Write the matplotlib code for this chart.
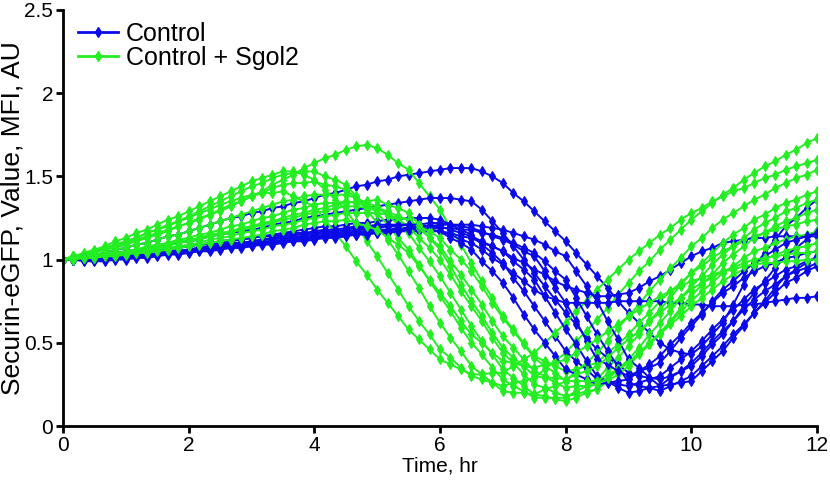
import numpy as np
import matplotlib
matplotlib.use("Agg")
import matplotlib.pyplot as plt
from matplotlib.lines import Line2D

plt.rcParams['font.family'] = ['Liberation Sans', 'DejaVu Sans']

# acquisition every 10 minutes for 12 hours
frame_interval_min = 10
n_frames = 73
time_hr = np.arange(n_frames) * frame_interval_min / 60.0

# ---- Control (blue) ----
control_1 = [1.00,1.01,1.02, 1.03,1.04,1.06, 1.07,1.09,1.10, 1.12,1.14,1.15, 1.17,1.19,1.21, 1.23,1.25,1.26,
             1.28,1.29,1.31, 1.32,1.34,1.35, 1.37,1.39,1.40, 1.42,1.44,1.45, 1.47,1.48,1.50, 1.51,1.52,1.53,
             1.54,1.55,1.55, 1.55,1.53,1.50, 1.46,1.40,1.35, 1.29,1.23,1.17, 1.11,1.04,0.97, 0.90,0.83,0.75,
             0.68,0.62,0.56, 0.50,0.46,0.44, 0.43,0.48,0.55, 0.62,0.73,0.85, 0.96,1.04,1.12, 1.20,1.25,1.31, 1.36]
control_2 = [1.00,1.01,1.01, 1.02,1.03,1.04, 1.05,1.06,1.07, 1.08,1.09,1.10, 1.11,1.12,1.14, 1.15,1.16,1.17,
             1.18,1.19,1.21, 1.22,1.23,1.25, 1.26,1.27,1.28, 1.29,1.30,1.31, 1.32,1.33,1.34, 1.35,1.36,1.37,
             1.37,1.37,1.36, 1.35,1.30,1.23, 1.16,1.08,1.00, 0.92,0.84,0.76, 0.68,0.61,0.53, 0.46,0.41,0.37,
             0.32,0.30,0.29, 0.28,0.30,0.33, 0.36,0.42,0.49, 0.55,0.63,0.72, 0.80,0.87,0.95, 1.02,1.07,1.12, 1.17]
control_3 = [1.00,1.00,1.01, 1.01,1.02,1.02, 1.03,1.04,1.05, 1.06,1.07,1.07, 1.08,1.09,1.10, 1.11,1.12,1.12,
             1.13,1.14,1.15, 1.16,1.17,1.18, 1.19,1.20,1.20, 1.21,1.22,1.22, 1.23,1.24,1.24, 1.25,1.25,1.25,
             1.24,1.21,1.18, 1.15,1.09,1.04, 0.98,0.89,0.81, 0.72,0.63,0.54, 0.45,0.39,0.34, 0.28,0.27,0.25,
             0.24,0.26,0.28, 0.30,0.35,0.40, 0.45,0.51,0.58, 0.64,0.70,0.76, 0.82,0.86,0.90, 0.94,0.96,0.99, 1.01]
control_4 = [1.00,1.00,1.00, 1.00,1.01,1.01, 1.02,1.03,1.03, 1.04,1.05,1.05, 1.06,1.07,1.08, 1.09,1.10,1.10,
             1.11,1.12,1.13, 1.14,1.15,1.15, 1.16,1.17,1.17, 1.18,1.19,1.19, 1.20,1.20,1.21, 1.21,1.21,1.20,
             1.20,1.18,1.16, 1.14,1.11,1.08, 1.05,1.01,0.98, 0.94,0.91,0.87, 0.84,0.82,0.80, 0.78,0.78,0.79,
             0.80,0.83,0.87, 0.90,0.94,0.98, 1.02,1.05,1.07, 1.10,1.11,1.12, 1.13,1.13,1.14, 1.14,1.14,1.14, 1.14]
control_5 = [1.00,1.00,1.01, 1.01,1.01,1.02, 1.02,1.03,1.03, 1.04,1.05,1.05, 1.06,1.07,1.07, 1.08,1.09,1.09,
             1.10,1.11,1.11, 1.12,1.13,1.13, 1.14,1.15,1.15, 1.16,1.17,1.17, 1.18,1.18,1.19, 1.19,1.19,1.18,
             1.17,1.15,1.12, 1.10,1.06,1.01, 0.97,0.92,0.87, 0.82,0.78,0.76, 0.74,0.74,0.74, 0.74,0.74,0.75,
             0.75,0.75,0.75, 0.75,0.74,0.74, 0.73,0.73,0.72, 0.72,0.72,0.73, 0.73,0.74,0.75, 0.76,0.77,0.77, 0.78]
control_6 = [1.00,1.00,1.00, 1.00,1.00,1.01, 1.01,1.02,1.02, 1.03,1.04,1.04, 1.05,1.06,1.06, 1.07,1.08,1.08,
             1.09,1.10,1.10, 1.11,1.12,1.12, 1.13,1.14,1.14, 1.15,1.15,1.16, 1.16,1.16,1.17, 1.17,1.17,1.17,
             1.17,1.16,1.14, 1.13,1.10,1.08, 1.05,0.99,0.94, 0.88,0.78,0.68, 0.58,0.49,0.39, 0.30,0.27,0.23,
             0.20,0.21,0.23, 0.24,0.29,0.33, 0.38,0.44,0.51, 0.57,0.63,0.70, 0.76,0.81,0.85, 0.90,0.93,0.95, 0.98]
control_7 = [1.00,1.00,0.99, 0.99,0.99,1.00, 1.00,1.01,1.01, 1.02,1.03,1.03, 1.04,1.05,1.05, 1.06,1.07,1.07,
             1.08,1.09,1.09, 1.10,1.11,1.11, 1.12,1.13,1.13, 1.14,1.15,1.15, 1.16,1.17,1.17, 1.18,1.18,1.19,
             1.19,1.19,1.18, 1.18,1.16,1.15, 1.13,1.10,1.07, 1.04,0.99,0.93, 0.88,0.77,0.66, 0.55,0.45,0.36,
             0.26,0.24,0.23, 0.21,0.24,0.27, 0.30,0.36,0.42, 0.48,0.55,0.61, 0.68,0.74,0.80, 0.86,0.89,0.93, 0.96]
control_8 = [1.00,1.00,1.01, 1.01,1.02,1.02, 1.03,1.04,1.04, 1.05,1.06,1.07, 1.08,1.09,1.09, 1.10,1.11,1.12,
             1.13,1.14,1.14, 1.15,1.16,1.16, 1.17,1.18,1.18, 1.19,1.20,1.20, 1.21,1.21,1.21, 1.21,1.20,1.18,
             1.17,1.13,1.10, 1.06,0.99,0.93, 0.86,0.77,0.67, 0.58,0.50,0.42, 0.34,0.31,0.28, 0.25,0.26,0.27,
             0.28,0.33,0.37, 0.42,0.49,0.55, 0.62,0.68,0.74, 0.80,0.84,0.89, 0.93,0.96,0.98, 1.01,1.02,1.04, 1.05]
control_9 = [1.00,1.00,1.00, 1.00,1.00,1.01, 1.01,1.02,1.02, 1.03,1.04,1.04, 1.05,1.06,1.06, 1.07,1.08,1.08,
             1.09,1.10,1.10, 1.11,1.12,1.12, 1.13,1.14,1.14, 1.15,1.16,1.16, 1.17,1.18,1.18, 1.19,1.20,1.20,
             1.21,1.21,1.21, 1.21,1.20,1.19, 1.18,1.16,1.14, 1.12,1.09,1.05, 1.02,0.93,0.84, 0.75,0.63,0.52,
             0.40,0.35,0.29, 0.24,0.25,0.26, 0.27,0.33,0.39, 0.45,0.53,0.60, 0.68,0.75,0.83, 0.90,0.94,0.98, 1.02]
control_10 = [1.00,1.00,1.01, 1.01,1.01,1.02, 1.02,1.03,1.03, 1.04,1.05,1.05, 1.06,1.07,1.07, 1.08,1.09,1.10,
              1.11,1.12,1.12, 1.13,1.14,1.14, 1.15,1.16,1.16, 1.17,1.18,1.18, 1.19,1.20,1.20, 1.21,1.21,1.22,
              1.22,1.21,1.20, 1.19,1.17,1.14, 1.12,1.09,1.05, 1.02,0.93,0.83, 0.74,0.63,0.51, 0.40,0.37,0.33,
              0.30,0.33,0.35, 0.38,0.45,0.53, 0.60,0.67,0.75, 0.82,0.87,0.93, 0.98,1.02,1.06, 1.10,1.12,1.14, 1.16]

# ---- Control + Sgol2 (green) ----
sgol2_1 = [1.00,1.02,1.03, 1.05,1.07,1.08, 1.10,1.12,1.14, 1.16,1.18,1.20, 1.22,1.24,1.27, 1.29,1.32,1.35,
           1.38,1.41,1.45, 1.48,1.51,1.55, 1.58,1.61,1.63, 1.66,1.68,1.69, 1.67,1.63,1.58, 1.54,1.46,1.38,
           1.30,1.19,1.09, 0.98,0.87,0.77, 0.66,0.58,0.50, 0.42,0.39,0.36, 0.33,0.34,0.36, 0.38,0.44,0.49,
           0.55,0.62,0.68, 0.75,0.81,0.86, 0.92,0.96,1.01, 1.05,1.08,1.11, 1.14,1.16,1.18, 1.20,1.21,1.23, 1.24]
sgol2_2 = [1.00,1.02,1.04, 1.06,1.08,1.11, 1.13,1.16,1.18, 1.21,1.24,1.26, 1.29,1.32,1.35, 1.38,1.41,1.44,
           1.47,1.49,1.51, 1.53,1.53,1.51, 1.48,1.42,1.36, 1.30,1.21,1.11, 1.02,0.92,0.82, 0.72,0.63,0.55,
           0.46,0.41,0.35, 0.30,0.28,0.26, 0.24,0.26,0.27, 0.29,0.34,0.39, 0.44,0.51,0.57, 0.64,0.71,0.79,
           0.86,0.93,0.99, 1.06,1.12,1.18, 1.24,1.29,1.34, 1.39,1.43,1.48, 1.52,1.56,1.59, 1.63,1.66,1.70, 1.73]
sgol2_3 = [1.00,1.02,1.03, 1.05,1.07,1.09, 1.11,1.13,1.16, 1.18,1.20,1.23, 1.25,1.28,1.30, 1.33,1.35,1.37,
           1.39,1.40,1.40, 1.41,1.38,1.35, 1.32,1.24,1.16, 1.08,0.99,0.91, 0.82,0.74,0.66, 0.58,0.52,0.46,
           0.40,0.37,0.34, 0.31,0.31,0.32, 0.32,0.36,0.40, 0.44,0.50,0.56, 0.62,0.69,0.75, 0.82,0.88,0.94,
           1.00,1.05,1.10, 1.15,1.19,1.24, 1.28,1.31,1.35, 1.38,1.41,1.43, 1.46,1.49,1.51, 1.54,1.56,1.58, 1.60]
sgol2_4 = [1.00,1.02,1.03, 1.05,1.07,1.09, 1.11,1.13,1.16, 1.18,1.21,1.23, 1.26,1.29,1.32, 1.35,1.38,1.41,
           1.44,1.46,1.49, 1.51,1.52,1.53, 1.53,1.50,1.48, 1.45,1.38,1.30, 1.22,1.12,1.03, 0.93,0.83,0.72,
           0.62,0.53,0.45, 0.36,0.31,0.26, 0.21,0.20,0.20, 0.19,0.22,0.24, 0.27,0.33,0.38, 0.44,0.51,0.59,
           0.66,0.73,0.81, 0.88,0.95,1.01, 1.08,1.13,1.19, 1.24,1.28,1.32, 1.36,1.39,1.43, 1.46,1.49,1.51, 1.54]
sgol2_5 = [1.00,1.01,1.03, 1.04,1.06,1.07, 1.09,1.11,1.13, 1.15,1.17,1.20, 1.22,1.25,1.27, 1.30,1.33,1.35,
           1.38,1.40,1.43, 1.45,1.46,1.46, 1.47,1.45,1.44, 1.42,1.37,1.33, 1.28,1.21,1.13, 1.06,0.97,0.87,
           0.78,0.69,0.59, 0.50,0.43,0.35, 0.28,0.24,0.21, 0.17,0.17,0.17, 0.17,0.21,0.24, 0.28,0.35,0.41,
           0.48,0.55,0.63, 0.70,0.77,0.85, 0.92,0.98,1.04, 1.10,1.15,1.19, 1.24,1.27,1.31, 1.34,1.36,1.39, 1.41]
sgol2_6 = [1.00,1.01,1.02, 1.03,1.04,1.06, 1.07,1.09,1.10, 1.12,1.14,1.15, 1.17,1.19,1.21, 1.23,1.25,1.27,
           1.29,1.31,1.33, 1.35,1.36,1.38, 1.39,1.39,1.39, 1.39,1.37,1.34, 1.32,1.27,1.21, 1.16,1.07,0.99,
           0.90,0.80,0.70, 0.60,0.51,0.43, 0.34,0.29,0.24, 0.19,0.18,0.16, 0.15,0.17,0.20, 0.22,0.28,0.34,
           0.40,0.47,0.55, 0.62,0.69,0.77, 0.84,0.90,0.97, 1.03,1.08,1.13, 1.18,1.22,1.25, 1.29,1.31,1.34, 1.36]
sgol2_7 = [1.00,1.01,1.01, 1.02,1.03,1.04, 1.05,1.06,1.08, 1.09,1.10,1.12, 1.13,1.15,1.16, 1.18,1.20,1.21,
           1.23,1.25,1.26, 1.28,1.30,1.31, 1.33,1.34,1.34, 1.35,1.34,1.32, 1.31,1.27,1.24, 1.20,1.13,1.07,
           1.00,0.91,0.81, 0.72,0.63,0.53, 0.44,0.38,0.31, 0.25,0.23,0.20, 0.18,0.19,0.21, 0.22,0.27,0.31,
           0.36,0.43,0.49, 0.56,0.63,0.71, 0.78,0.85,0.91, 0.98,1.03,1.08, 1.13,1.16,1.20, 1.23,1.25,1.28, 1.30]
sgol2_8 = [1.00,1.01,1.01, 1.02,1.03,1.03, 1.04,1.05,1.06, 1.07,1.08,1.10, 1.11,1.12,1.14, 1.15,1.16,1.18,
           1.19,1.21,1.22, 1.24,1.25,1.27, 1.28,1.29,1.31, 1.32,1.32,1.31, 1.31,1.29,1.26, 1.24,1.19,1.13,
           1.08,0.99,0.91, 0.82,0.73,0.63, 0.54,0.47,0.40, 0.33,0.30,0.26, 0.23,0.24,0.24, 0.25,0.29,0.34,
           0.38,0.44,0.50, 0.56,0.62,0.69, 0.75,0.81,0.86, 0.92,0.96,1.01, 1.05,1.07,1.10, 1.12,1.14,1.15, 1.17]
sgol2_9 = [1.00,1.00,1.01, 1.01,1.02,1.02, 1.03,1.04,1.05, 1.06,1.07,1.08, 1.09,1.10,1.12, 1.13,1.14,1.16,
           1.17,1.18,1.20, 1.21,1.22,1.24, 1.25,1.26,1.27, 1.28,1.28,1.28, 1.28,1.27,1.25, 1.24,1.20,1.17,
           1.13,1.06,1.00, 0.93,0.84,0.74, 0.65,0.57,0.49, 0.41,0.36,0.32, 0.27,0.27,0.27, 0.27,0.31,0.34,
           0.38,0.44,0.49, 0.55,0.61,0.66, 0.72,0.77,0.82, 0.87,0.91,0.94, 0.98,1.00,1.03, 1.05,1.07,1.08, 1.10]
sgol2_10 = [1.00,1.01,1.01, 1.02,1.03,1.04, 1.05,1.06,1.07, 1.08,1.09,1.11, 1.12,1.13,1.15, 1.16,1.17,1.19,
            1.20,1.22,1.23, 1.25,1.27,1.28, 1.30,1.31,1.33, 1.34,1.35,1.35, 1.36,1.33,1.31, 1.28,1.21,1.13,
            1.06,0.96,0.85, 0.75,0.66,0.56, 0.47,0.41,0.36, 0.30,0.29,0.29, 0.28,0.31,0.33, 0.36,0.41,0.47,
            0.52,0.57,0.63, 0.68,0.73,0.77, 0.82,0.86,0.89, 0.93,0.95,0.98, 1.00,1.01,1.02, 1.03,1.04,1.04, 1.05]
sgol2_11 = [1.00,1.00,1.01, 1.01,1.02,1.02, 1.03,1.04,1.04, 1.05,1.06,1.07, 1.08,1.09,1.10, 1.11,1.12,1.13,
            1.14,1.15,1.17, 1.18,1.19,1.21, 1.22,1.23,1.23, 1.24,1.22,1.20, 1.18,1.13,1.09, 1.04,0.96,0.88,
            0.80,0.72,0.63, 0.55,0.50,0.44, 0.39,0.38,0.36, 0.35,0.37,0.38, 0.40,0.44,0.48, 0.52,0.57,0.61,
            0.66,0.70,0.74, 0.78,0.81,0.84, 0.87,0.89,0.91, 0.93,0.94,0.96, 0.97,0.98,0.98, 0.99,0.99,1.00, 1.00]

control_series = [control_1, control_2, control_3, control_4, control_5,
                  control_6, control_7, control_8, control_9, control_10]
sgol2_series = [sgol2_1, sgol2_2, sgol2_3, sgol2_4, sgol2_5, sgol2_6,
                sgol2_7, sgol2_8, sgol2_9, sgol2_10, sgol2_11]

labels = ["Control", "Control + Sgol2"]
x_ticks = [0, 2, 4, 6, 8, 10, 12]
y_ticks = [0, 0.5, 1, 1.5, 2, 2.5]
y_ticklabels = ["0", "0.5", "1", "1.5", "2", "2.5"]

BLUE = "#0a0ae8"
GREEN = "#22ee22"

fig = plt.figure(figsize=(8.3, 4.8), dpi=100)
ax = fig.add_axes([63/830, 54/480, 754/830, 416/480])

style = dict(lw=1.4, marker="d", markersize=5, markeredgewidth=0.8)
n = max(len(control_series), len(sgol2_series))
for i in range(n):
    if i < len(control_series):
        ax.plot(time_hr, control_series[i], color=BLUE, mec=BLUE, mfc=BLUE, **style)
    if i < len(sgol2_series):
        ax.plot(time_hr, sgol2_series[i], color=GREEN, mec=GREEN, mfc=GREEN, **style)

ax.set_xlim(0, 12)
ax.set_ylim(0, 2.5)
ax.set_xticks(x_ticks)
ax.set_xticklabels([str(v) for v in x_ticks])
ax.set_yticks(y_ticks)
ax.set_yticklabels(y_ticklabels)
for s in ["top", "right"]:
    ax.spines[s].set_visible(False)
for s in ["left", "bottom"]:
    ax.spines[s].set_linewidth(2)
    ax.spines[s].set_color("black")
ax.tick_params(direction="out", length=5, width=2, labelsize=15, pad=2)
ax.set_xlabel("Time, hr", fontsize=15, labelpad=1)
ax.set_ylabel("Securin-eGFP, Value, MFI, AU", fontsize=19, labelpad=0)

handles = [Line2D([], [], color=BLUE, marker="d", markersize=5, lw=2, mfc=BLUE, mec=BLUE),
           Line2D([], [], color=GREEN, marker="d", markersize=5, lw=2, mfc=GREEN, mec=GREEN)]
ax.legend(handles, labels, loc="upper left", bbox_to_anchor=(78/830, 1 - 22/480),
          bbox_transform=fig.transFigure, frameon=False, fontsize=18,
          borderpad=0, borderaxespad=0, handlelength=1.6, handletextpad=0.3,
          labelspacing=0.0)

fig.savefig("out.png", dpi=100)
